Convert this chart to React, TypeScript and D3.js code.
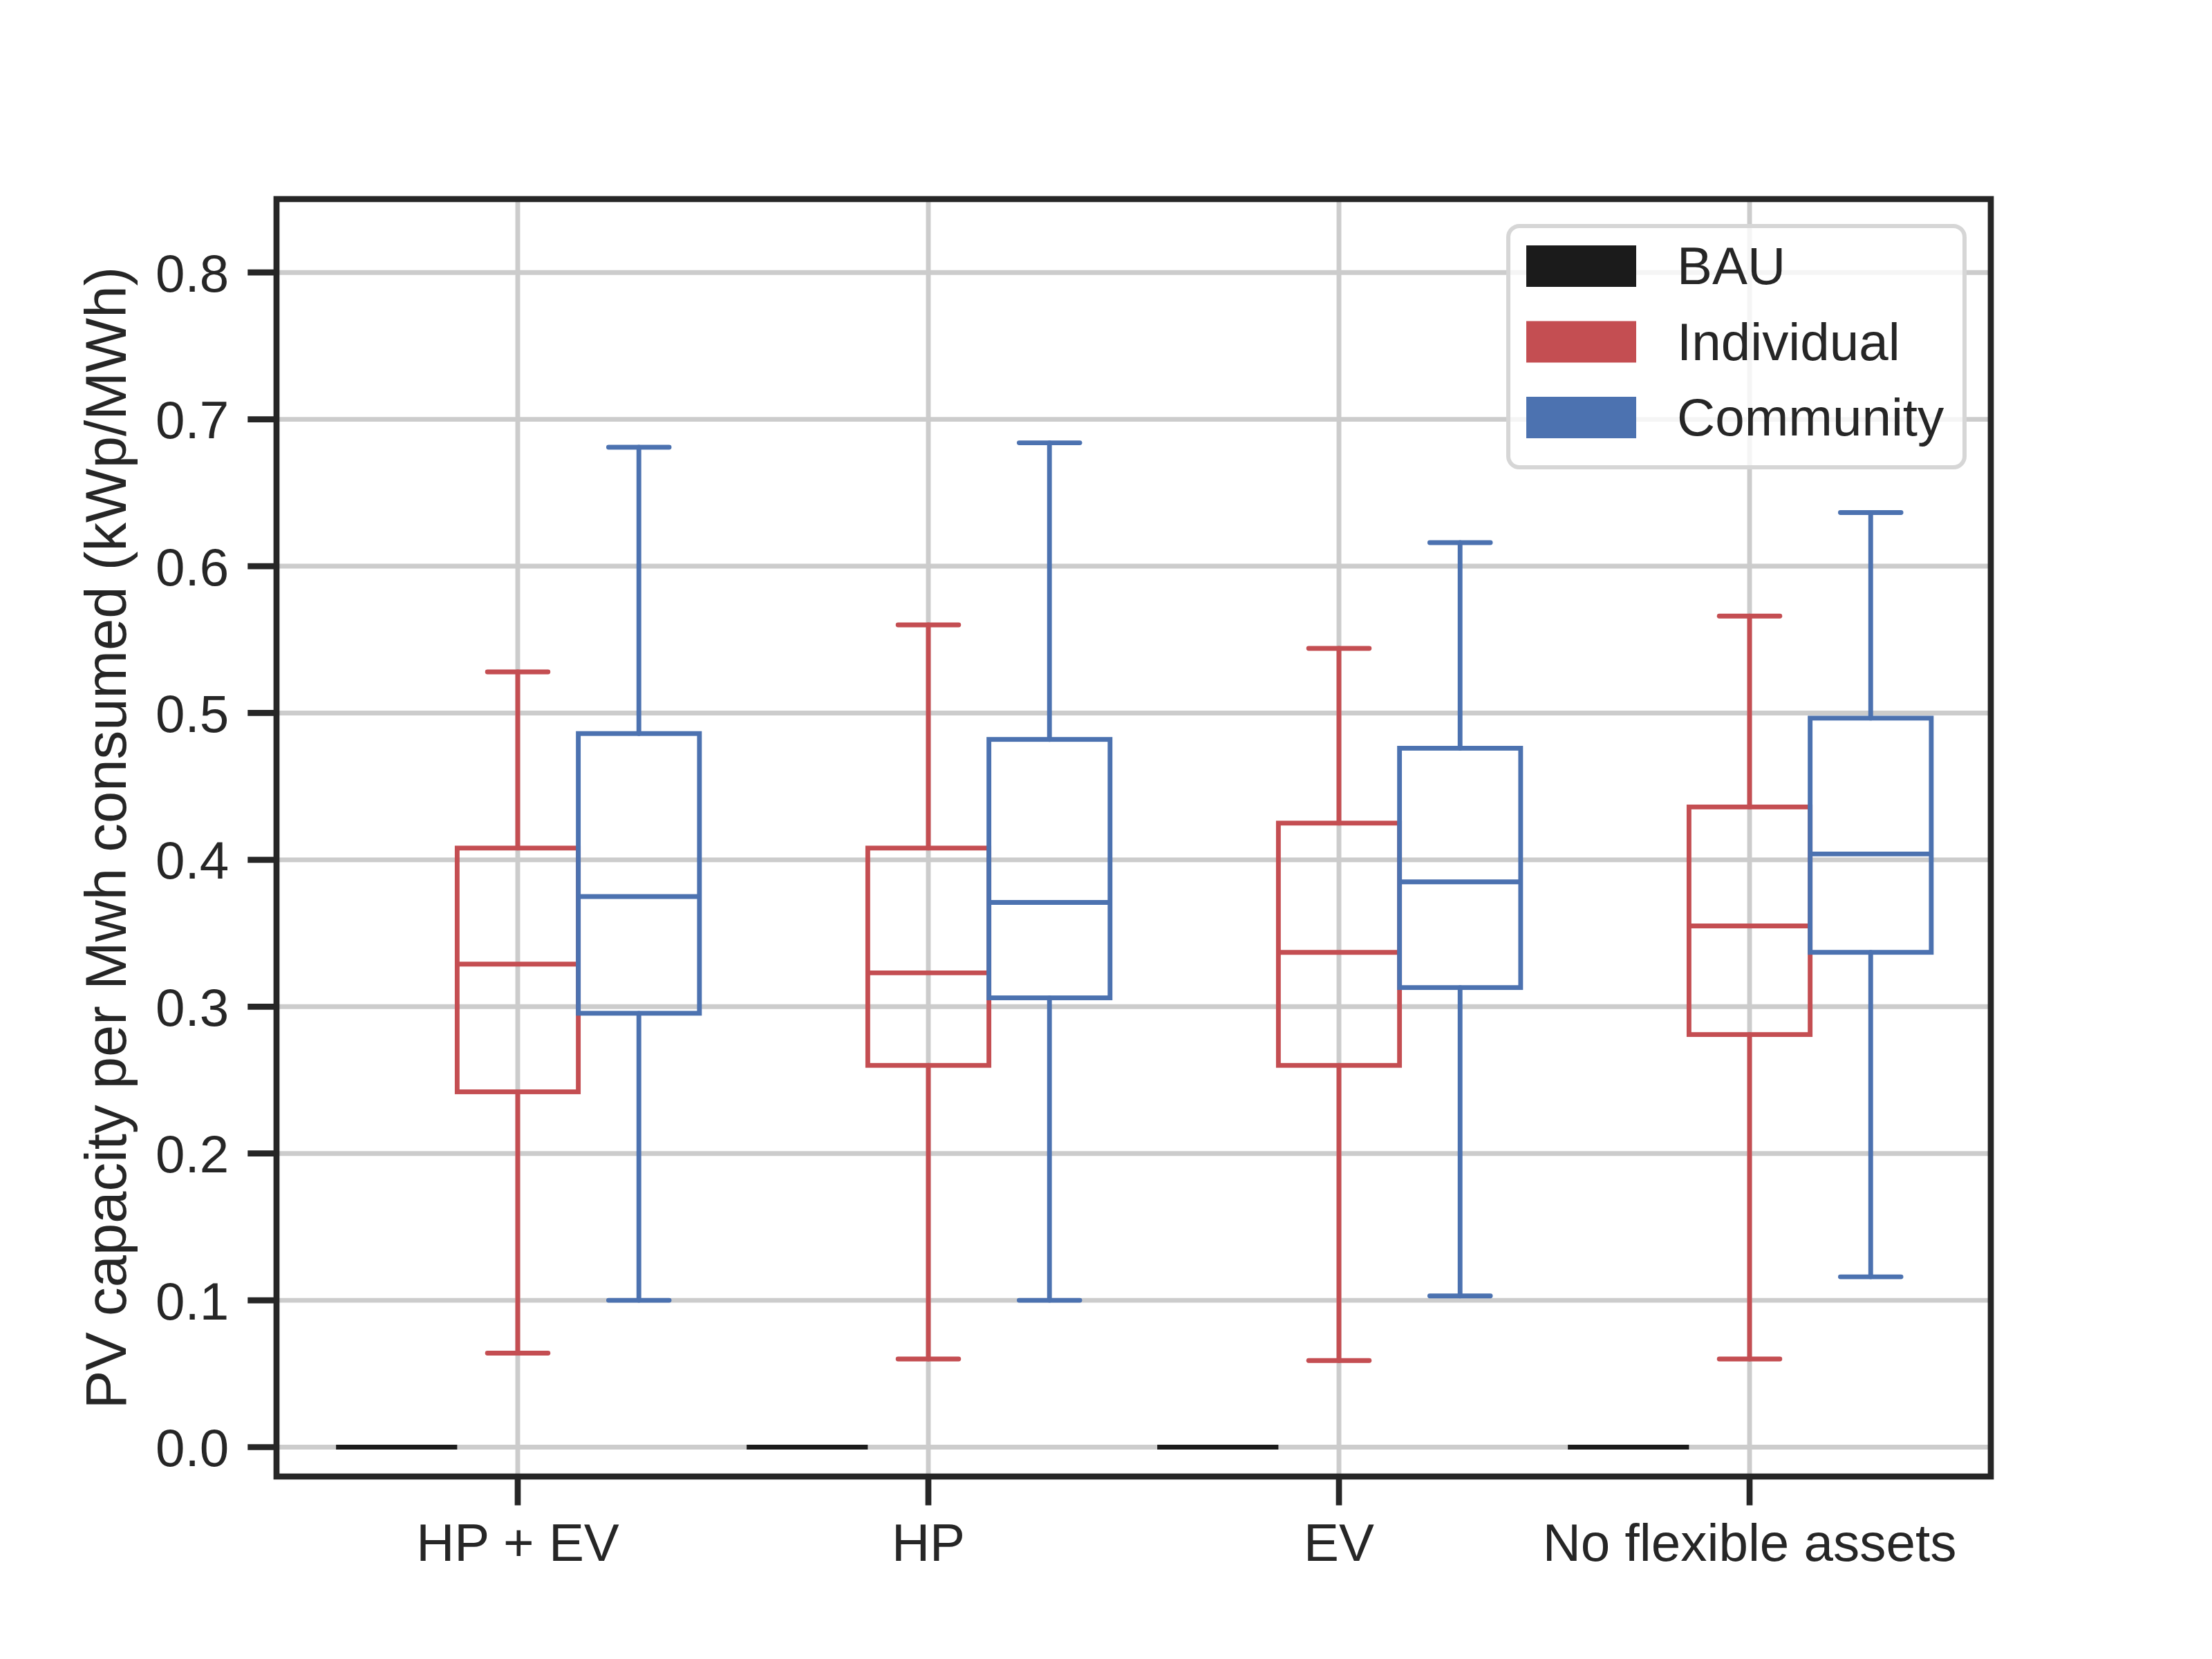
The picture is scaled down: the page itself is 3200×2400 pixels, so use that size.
import React from 'react';
import * as d3 from 'd3';

// ---- data ----
const categories = ['HP + EV', 'HP', 'EV', 'No flexible assets'];
const seriesNames = ['BAU', 'Individual', 'Community'];
const seriesColors = ['#1b1b1b', '#c44e52', '#4c72b0'];
// each entry: [whisker low, Q1, median, Q3, whisker high]
const bauStats = [
  [0, 0, 0, 0, 0],
  [0, 0, 0, 0, 0],
  [0, 0, 0, 0, 0],
  [0, 0, 0, 0, 0],
];
const individualStats = [
  [0.064, 0.242, 0.329, 0.408, 0.528],
  [0.060, 0.260, 0.323, 0.408, 0.560],
  [0.059, 0.260, 0.337, 0.425, 0.544],
  [0.060, 0.281, 0.355, 0.436, 0.566],
];
const communityStats = [
  [0.100, 0.2955, 0.375, 0.486, 0.681],
  [0.100, 0.306, 0.371, 0.482, 0.684],
  [0.103, 0.313, 0.385, 0.476, 0.616],
  [0.116, 0.337, 0.404, 0.4965, 0.6365],
];
const yTicks = [0, 0.1, 0.2, 0.3, 0.4, 0.5, 0.6, 0.7, 0.8];
const yLabel = 'PV capacity per Mwh consumed (kWp/MWh)';

const W = 3200;
const H = 2400;
const left = 400, right = 2880, top = 288, bottom = 2136;
const font = '"Liberation Sans", Arial, sans-serif';
const textColor = '#262626';
const boxW = 0.295;
const lw = 6.9;

export default function App() {
  const x = d3.scaleLinear().domain([-0.5875, 3.5875]).range([left, right]);
  const y = d3.scaleLinear().domain([-0.02, 0.85]).range([bottom, top]);
  const fmt = d3.format('.1f');
  const allStats = [bauStats, individualStats, communityStats];
  const pxW = x(boxW) - x(0);

  return (
    <svg width={W} height={H} viewBox={`0 0 ${W} ${H}`}
      style={{ position: 'absolute', left: 0, top: 0, background: '#fff' }}>
      <rect x={0} y={0} width={W} height={H} fill="#fff" />
      {/* grid */}
      <g stroke="#cccccc" strokeWidth={6.9}>
        {yTicks.map((t) => (
          <line key={'gy' + t} x1={left} x2={right} y1={y(t)} y2={y(t)} />
        ))}
        {categories.map((c, i) => (
          <line key={'gx' + c} x1={x(i)} x2={x(i)} y1={top} y2={bottom} />
        ))}
      </g>
      {/* boxes */}
      {allStats.map((stats, s) => (
        <g key={seriesNames[s]} stroke={seriesColors[s]} strokeWidth={lw} fill="none" strokeLinecap="round">
          {stats.map((d, i) => {
            const cx = x(i + (s - 1) * boxW);
            const [lo, q1, med, q3, hi] = d;
            return (
              <g key={i}>
                <line x1={cx} x2={cx} y1={y(q1)} y2={y(lo)} />
                <line x1={cx} x2={cx} y1={y(q3)} y2={y(hi)} />
                <line x1={cx - pxW / 4} x2={cx + pxW / 4} y1={y(lo)} y2={y(lo)} />
                <line x1={cx - pxW / 4} x2={cx + pxW / 4} y1={y(hi)} y2={y(hi)} />
                <rect x={cx - pxW / 2} y={y(q3)} width={pxW} height={Math.max(0, y(q1) - y(q3))} strokeLinejoin="miter" />
                <line x1={cx - pxW / 2} x2={cx + pxW / 2} y1={y(med)} y2={y(med)} strokeLinecap="butt" />
              </g>
            );
          })}
        </g>
      ))}
      {/* spines */}
      <rect x={left} y={top} width={right - left} height={bottom - top} fill="none"
        stroke={textColor} strokeWidth={8.7} strokeLinecap="square" />
      {/* y ticks */}
      <g>
        {yTicks.map((t) => (
          <g key={'yt' + t}>
            <line x1={left - 41.7} x2={left} y1={y(t)} y2={y(t)} stroke={textColor} strokeWidth={8.7} />
            <text x={left - 41.7 - 27} y={y(t)} dy="0.36em" textAnchor="end" fontFamily={font}
              fontSize={76.4} fill={textColor}>{fmt(t)}</text>
          </g>
        ))}
      </g>
      {/* x ticks */}
      <g>
        {categories.map((c, i) => (
          <g key={'xt' + c}>
            <line x1={x(i)} x2={x(i)} y1={bottom} y2={bottom + 41.7} stroke={textColor} strokeWidth={8.7} />
            <text x={x(i)} y={2258} textAnchor="middle" fontFamily={font} fontSize={76.4} fill={textColor}>{c}</text>
          </g>
        ))}
      </g>
      {/* y label */}
      <text transform={`translate(182, ${(top + bottom) / 2}) rotate(-90)`} textAnchor="middle"
        fontFamily={font} fontSize={83.3} fill={textColor}>{yLabel}</text>
      {/* legend */}
      <g>
        <rect x={2182} y={327} width={2842 - 2182} height={676 - 327} rx={16} ry={16}
          fill="#ffffff" fillOpacity={0.8} stroke="#d6d6d6" strokeWidth={6} />
        {seriesNames.map((n, k) => (
          <g key={'lg' + n}>
            <rect x={2208} y={355 + k * 109.5} width={159} height={60} fill={seriesColors[k]} />
            <text x={2426} y={411 + k * 109.5} fontFamily={font} fontSize={76.4} fill={textColor}>{n}</text>
          </g>
        ))}
      </g>
    </svg>
  );
}
